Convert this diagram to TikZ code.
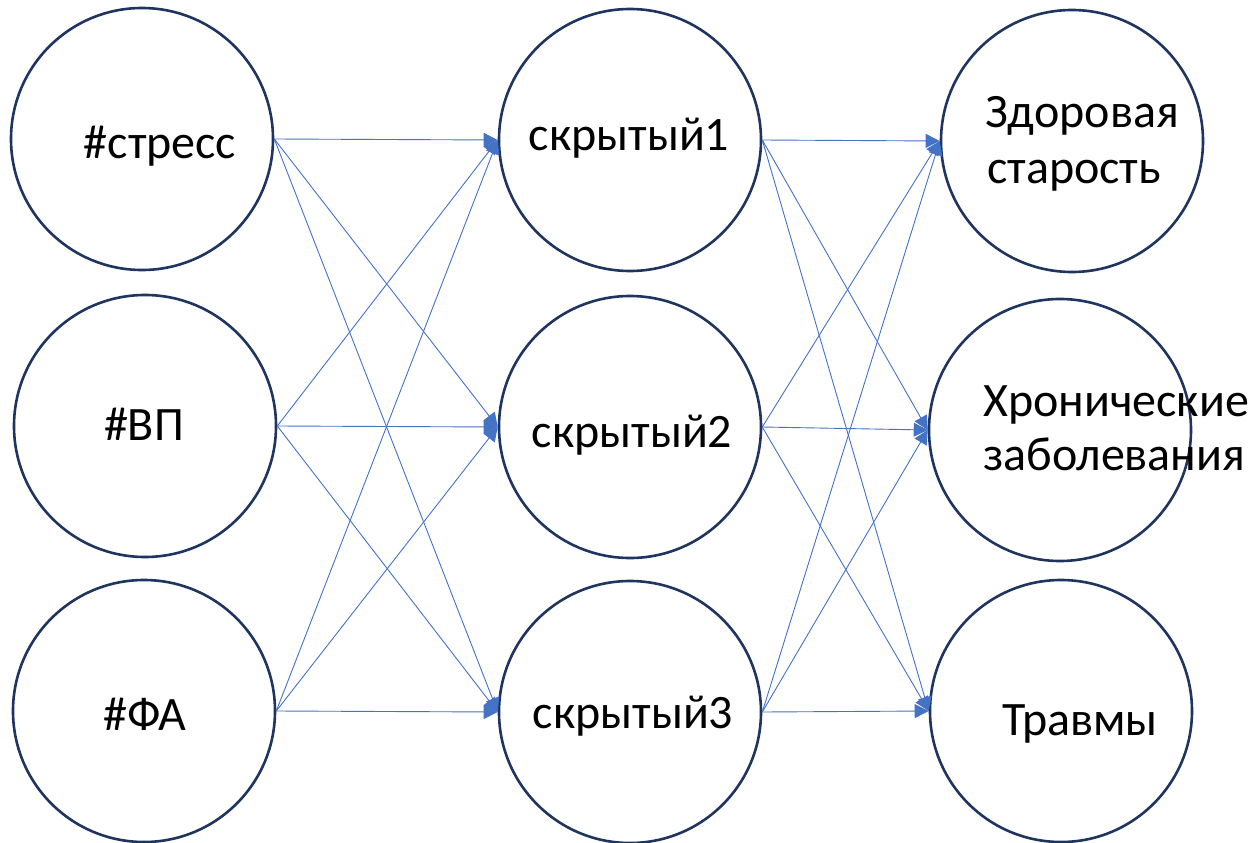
\documentclass[tikz,border=0pt]{standalone}
\usepackage{fontspec}
\setmainfont{Carlito}
\usetikzlibrary{arrows.meta}
\definecolor{ringcol}{HTML}{1F3560}
\definecolor{linkcol}{HTML}{4472C4}
\begin{document}
\begin{tikzpicture}[x=1pt,y=-1pt,
  neuron/.style={circle,draw=ringcol,line width=2.6pt,minimum size=262pt,inner sep=0pt,fill=white},
  lbl/.style={inner sep=0pt,font=\fontsize{48}{57}\selectfont},
  link/.style={draw=linkcol,line width=0.9pt,-{Triangle[length=14pt,width=14pt]}}]
\useasboundingbox (0,0) rectangle (1253,843);

% input layer
\node[neuron] (L1) at (142,139) {};
\node[neuron] (L2) at (145,426) {};
\node[neuron] (L3) at (144,711) {};
% hidden layer
\node[neuron] (M1) at (630,140) {};
\node[neuron] (M2) at (630,427) {};
\node[neuron] (M3) at (630,712) {};
% output layer
\node[neuron] (R1) at (1072,141) {};
\node[neuron] (R2) at (1060,430) {};
\node[neuron] (R3) at (1061,711) {};

% connections input -> hidden
\foreach \i in {1,2,3}
  \foreach \j in {1,2,3}
    \draw[link] (L\i.east) -- (M\j.west);
% connections hidden -> output
\foreach \i in {1,2,3}
  \foreach \j in {1,2,3}
    \draw[link] (M\i.east) -- (R\j.west);

% labels
\node[lbl,anchor=base] (tL1) at (160,158) {\#стресс};
\node[lbl,anchor=base] (tL2) at (144,440) {\#ВП};
\node[lbl,anchor=base] (tL3) at (145,730) {\#ФА};
\node[lbl,anchor=base] (tM1) at (629,150) {скрытый1};
\node[lbl,anchor=base] (tM2) at (632,447) {скрытый2};
\node[lbl,anchor=base] (tM3) at (633,728) {скрытый3};
\node[lbl,anchor=base west] (tR1a) at (985,127) {Здоровая};
\node[lbl,anchor=base west] (tR1b) at (987,183) {старость};
\node[lbl,anchor=base west] (tR2a) at (983,416) {Хронические};
\node[lbl,anchor=base west] (tR2b) at (983,470) {заболевания};
\node[lbl,anchor=base] (tR3) at (1080,735) {Травмы};
\end{tikzpicture}
\end{document}
